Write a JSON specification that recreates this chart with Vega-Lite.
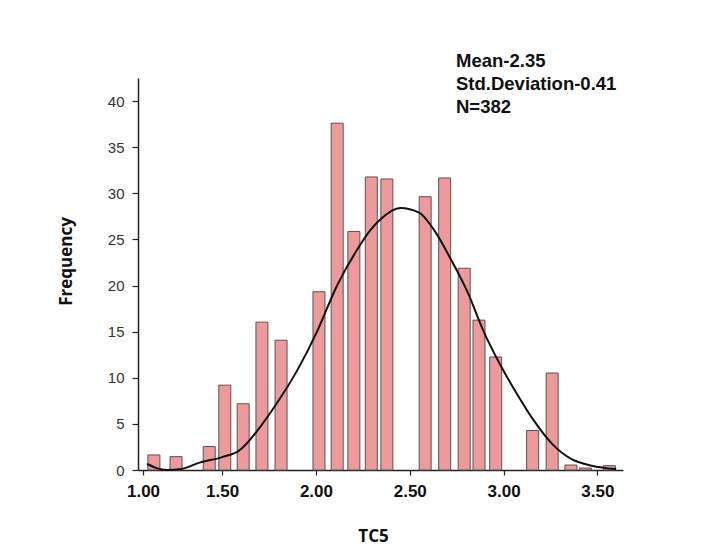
{
  "$schema": "https://vega.github.io/schema/vega-lite/v6.json",
  "width": 485,
  "height": 392,
  "autosize": {"type": "none"},
  "padding": {"left": 138, "top": 78, "right": 87, "bottom": 78},
  "background": "white",
  "title": {
    "text": ["Mean-2.35", "Std.Deviation-0.41", "N=382"],
    "anchor": "start",
    "frame": "group",
    "orient": "top",
    "baseline": "top",
    "offset": 26,
    "dx": 318,
    "dy": 64,
    "font": "Liberation Sans",
    "fontSize": 18.5,
    "fontWeight": "bold",
    "lineHeight": 23,
    "color": "#111"
  },
  "config": {
    "view": {"stroke": null},
    "axis": {"grid": false, "domainColor": "#222", "tickColor": "#222", "domainWidth": 1.5, "tickWidth": 1.2}
  },
  "layer": [
    {
      "data": {"values": [
        {"tc5": 1.136, "freq": 1.63},
        {"tc5": 1.254, "freq": 1.45},
        {"tc5": 1.431, "freq": 2.54},
        {"tc5": 1.514, "freq": 9.2},
        {"tc5": 1.612, "freq": 7.18},
        {"tc5": 1.712, "freq": 16.03},
        {"tc5": 1.814, "freq": 14.07},
        {"tc5": 2.016, "freq": 19.33},
        {"tc5": 2.113, "freq": 37.6},
        {"tc5": 2.202, "freq": 25.86},
        {"tc5": 2.295, "freq": 31.77},
        {"tc5": 2.378, "freq": 31.55},
        {"tc5": 2.582, "freq": 29.63},
        {"tc5": 2.686, "freq": 31.66},
        {"tc5": 2.79, "freq": 21.87},
        {"tc5": 2.869, "freq": 16.25},
        {"tc5": 2.958, "freq": 12.25},
        {"tc5": 3.155, "freq": 4.28},
        {"tc5": 3.259, "freq": 10.51},
        {"tc5": 3.359, "freq": 0.54},
        {"tc5": 3.436, "freq": 0.22},
        {"tc5": 3.564, "freq": 0.47}
      ]},
      "mark": {"type": "bar", "width": 12, "fill": "#ee9a9a", "stroke": "#555", "strokeWidth": 1},
      "encoding": {
        "x": {
          "field": "tc5", "type": "quantitative",
          "scale": {"domain": [1.078, 3.61], "nice": false, "zero": false},
          "axis": {
            "title": "TC5",
            "values": [1.078, 1.5, 2, 2.5, 3, 3.5],
            "labelExpr": "datum.value < 1.2 ? '1.00' : format(datum.value, '.2f')",
            "labelFont": "Liberation Sans", "labelFontSize": 17, "labelFontWeight": "bold", "labelColor": "#111",
            "labelPadding": 8, "tickSize": 5, "labelFlush": false,
            "titleFont": "Open Sans", "titleFontSize": 17, "titleFontWeight": "bold", "titleColor": "#111",
            "titlePadding": 29, "titleX": 235
          }
        },
        "y": {
          "field": "freq", "type": "quantitative",
          "scale": {"domain": [0, 42.5], "nice": false},
          "axis": {
            "title": "Frequency",
            "values": [0, 2.5, 5, 7.5, 10, 12.5, 15, 17.5, 20, 22.5, 25, 27.5, 30, 32.5, 35, 37.5, 40],
            "labelExpr": "datum.value % 5 === 0 ? datum.label : ''",
            "tickSize": {"condition": {"test": "datum.value % 5 === 0", "value": 6}, "value": 3},
            "labelFont": "Liberation Sans", "labelFontSize": 15, "labelColor": "#333", "labelPadding": 8,
            "titleFont": "Open Sans", "titleFontSize": 17, "titleFontWeight": "bold", "titleColor": "#111",
            "titlePadding": 32, "titleY": 183
          }
        }
      }
    },
    {
      "data": {"values": [
        {"tc5": 1.10, "freq": 0.65},
        {"tc5": 1.16, "freq": 0.15},
        {"tc5": 1.21, "freq": 0.0},
        {"tc5": 1.28, "freq": 0.1},
        {"tc5": 1.38, "freq": 0.8},
        {"tc5": 1.50, "freq": 1.4},
        {"tc5": 1.59, "freq": 2.1},
        {"tc5": 1.70, "freq": 4.6},
        {"tc5": 1.80, "freq": 7.5},
        {"tc5": 1.90, "freq": 10.8},
        {"tc5": 2.01, "freq": 15.2},
        {"tc5": 2.11, "freq": 19.9},
        {"tc5": 2.22, "freq": 23.9},
        {"tc5": 2.29, "freq": 26.0},
        {"tc5": 2.34, "freq": 27.1},
        {"tc5": 2.45, "freq": 28.4},
        {"tc5": 2.55, "freq": 27.9},
        {"tc5": 2.63, "freq": 26.0},
        {"tc5": 2.72, "freq": 22.8},
        {"tc5": 2.81, "freq": 19.2},
        {"tc5": 2.89, "freq": 15.2},
        {"tc5": 2.98, "freq": 11.5},
        {"tc5": 3.07, "freq": 8.3},
        {"tc5": 3.16, "freq": 5.4},
        {"tc5": 3.26, "freq": 2.8},
        {"tc5": 3.36, "freq": 1.2},
        {"tc5": 3.47, "freq": 0.47},
        {"tc5": 3.60, "freq": 0.1}
      ]},
      "mark": {"type": "line", "color": "#111", "strokeWidth": 2, "interpolate": "monotone"},
      "encoding": {
        "x": {"field": "tc5", "type": "quantitative"},
        "y": {"field": "freq", "type": "quantitative"}
      }
    }
  ]
}
